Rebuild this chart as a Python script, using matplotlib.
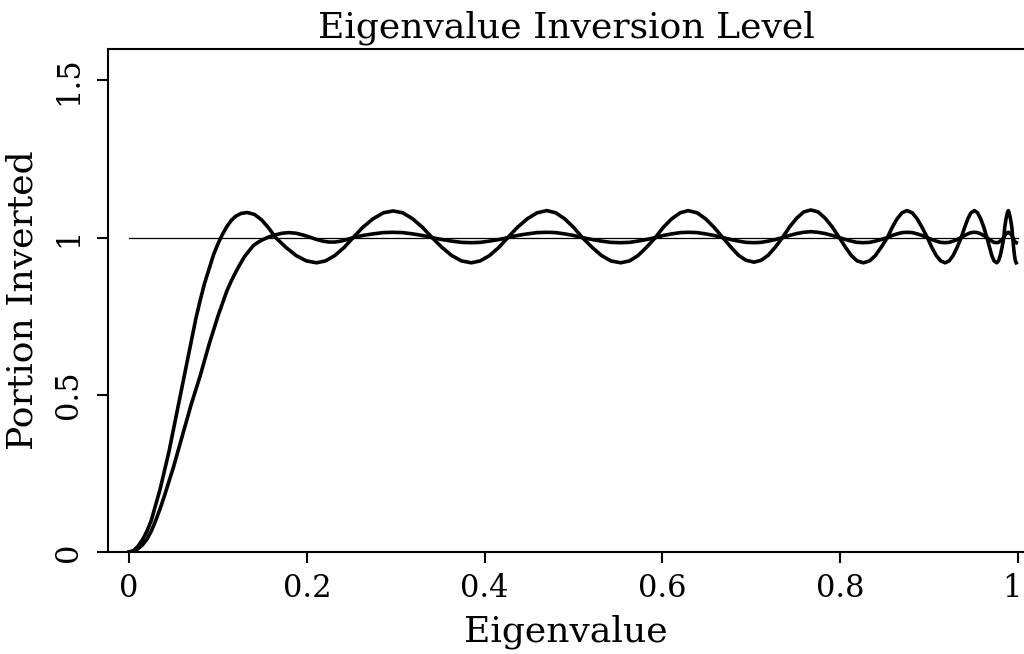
import matplotlib
matplotlib.use("Agg")
import matplotlib.pyplot as plt
import matplotlib.transforms as mtransforms

# values
# start of the curve with the large ripple (rise and first lobes)
fast_rise_x = [0.0, 0.005, 0.01, 0.015, 0.02, 0.025, 0.03, 0.035, 0.04, 0.045, 0.05,
               0.055, 0.06, 0.065, 0.07, 0.075, 0.08, 0.085, 0.09, 0.095, 0.10,
               0.105, 0.11, 0.115, 0.12, 0.126, 0.133, 0.141, 0.149, 0.157, 0.165,
               0.1765, 0.188, 0.1995, 0.211, 0.221, 0.2315, 0.242]
fast_rise_y = [0.0, 0.004, 0.018, 0.038, 0.065, 0.10, 0.15, 0.20, 0.26, 0.32, 0.39,
               0.46, 0.53, 0.60, 0.67, 0.74, 0.80, 0.855, 0.90, 0.945, 0.98,
               1.01, 1.035, 1.055, 1.068, 1.077, 1.08, 1.074, 1.057, 1.031, 1.0,
               0.969, 0.943, 0.926, 0.92, 0.926, 0.943, 0.969]

# start of the curve with the small ripple
slow_rise_x = [0.0, 0.005, 0.01, 0.015, 0.02, 0.025, 0.03, 0.035, 0.04, 0.045, 0.05,
               0.055, 0.06, 0.065, 0.07, 0.075, 0.08, 0.085, 0.09, 0.095, 0.10,
               0.105, 0.11, 0.115, 0.12, 0.125, 0.13, 0.135, 0.14, 0.145, 0.15,
               0.158, 0.165, 0.172, 0.18, 0.188, 0.195, 0.203, 0.21, 0.218, 0.225,
               0.232, 0.24, 0.246]
slow_rise_y = [0.0, 0.003, 0.01, 0.022, 0.04, 0.066, 0.10, 0.138, 0.18, 0.225, 0.27,
               0.32, 0.37, 0.42, 0.47, 0.515, 0.56, 0.61, 0.66, 0.705, 0.75,
               0.79, 0.83, 0.862, 0.89, 0.916, 0.94, 0.958, 0.975, 0.985, 0.993,
               1.003, 1.009, 1.014, 1.016, 1.014, 1.009, 1.002, 0.995, 0.989, 0.986,
               0.986, 0.99, 0.995]

# ripple part, both curves share the same eigenvalues
ripple_x = [0.252, 0.263, 0.2745, 0.286, 0.297, 0.308, 0.319, 0.330, 0.341,
            0.352, 0.363, 0.374, 0.385, 0.395, 0.4055, 0.416, 0.426,
            0.437, 0.448, 0.459, 0.470, 0.480, 0.490, 0.500, 0.510,
            0.521, 0.5315, 0.542, 0.553, 0.563, 0.5725, 0.582, 0.592,
            0.601, 0.6105, 0.620, 0.629, 0.639, 0.6485, 0.658, 0.668,
            0.677, 0.6855, 0.694, 0.703, 0.711, 0.719, 0.727, 0.735,
            0.743, 0.751, 0.759, 0.767, 0.775, 0.783, 0.791, 0.799,
            0.806, 0.8125, 0.819, 0.826, 0.833, 0.8395, 0.846, 0.853,
            0.8585, 0.864, 0.8695, 0.875, 0.881, 0.8865, 0.892, 0.898,
            0.903, 0.908, 0.913, 0.918, 0.9225, 0.927, 0.9315, 0.936,
            0.940, 0.9435, 0.947, 0.951, 0.9545, 0.958, 0.9615, 0.965,
            0.968, 0.9705, 0.973, 0.976, 0.978, 0.980, 0.982, 0.984,
            0.985, 0.9865, 0.988, 0.989, 0.990, 0.9915, 0.993, 0.994,
            0.995, 0.996, 0.997, 0.998]
fast_ripple_y = [1.0, 1.033, 1.060, 1.079, 1.085, 1.079, 1.060, 1.033, 1.0,
                 0.969, 0.943, 0.926, 0.92, 0.926, 0.943, 0.969, 1.0,
                 1.033, 1.060, 1.079, 1.086, 1.079, 1.060, 1.033, 1.0,
                 0.969, 0.943, 0.926, 0.92, 0.926, 0.943, 0.969, 1.0,
                 1.033, 1.060, 1.079, 1.086, 1.079, 1.060, 1.033, 1.0,
                 0.970, 0.944, 0.928, 0.922, 0.928, 0.944, 0.970, 1.0,
                 1.034, 1.062, 1.082, 1.088, 1.082, 1.062, 1.034, 1.0,
                 0.969, 0.943, 0.926, 0.92, 0.926, 0.943, 0.969, 1.0,
                 1.033, 1.060, 1.079, 1.086, 1.079, 1.060, 1.033, 1.0,
                 0.969, 0.943, 0.926, 0.92, 0.926, 0.943, 0.969, 1.0,
                 1.033, 1.060, 1.079, 1.086, 1.079, 1.060, 1.033, 1.0,
                 0.969, 0.943, 0.926, 0.92, 0.926, 0.943, 0.969, 1.0,
                 1.033, 1.060, 1.079, 1.086, 1.079, 1.060, 1.033, 1.0,
                 0.969, 0.943, 0.926, 0.92]
slow_ripple_y = [1.0, 1.007, 1.012, 1.016, 1.017, 1.016, 1.012, 1.007, 1.0,
                 0.994, 0.989, 0.985, 0.984, 0.985, 0.989, 0.994, 1.0,
                 1.007, 1.012, 1.016, 1.017, 1.016, 1.012, 1.007, 1.0,
                 0.994, 0.989, 0.985, 0.984, 0.985, 0.989, 0.994, 1.0,
                 1.007, 1.012, 1.016, 1.017, 1.016, 1.012, 1.007, 1.0,
                 0.994, 0.989, 0.985, 0.984, 0.985, 0.989, 0.994, 1.0,
                 1.007, 1.013, 1.017, 1.019, 1.017, 1.013, 1.007, 1.0,
                 0.994, 0.989, 0.985, 0.984, 0.985, 0.989, 0.994, 1.0,
                 1.007, 1.012, 1.016, 1.017, 1.016, 1.012, 1.007, 1.0,
                 0.994, 0.989, 0.985, 0.984, 0.985, 0.989, 0.994, 1.0,
                 1.007, 1.012, 1.016, 1.017, 1.016, 1.012, 1.007, 1.0,
                 0.994, 0.989, 0.985, 0.984, 0.985, 0.989, 0.994, 1.0,
                 1.007, 1.012, 1.016, 1.017, 1.016, 1.012, 1.007, 1.0,
                 0.994, 0.989, 0.985, 0.984]

x_ticks = [0, 0.2, 0.4, 0.6, 0.8, 1.0]
x_tick_labels = ["0", "0.2", "0.4", "0.6", "0.8", "1"]
y_ticks = [0, 0.5, 1.0, 1.5]
y_tick_labels = ["0", "0.5", "1", "1.5"]
ref_level = 1.0

plt.rcParams["font.family"] = ["DejaVu Serif"]

fast_x = fast_rise_x + ripple_x
fast_y = fast_rise_y + fast_ripple_y
slow_x = slow_rise_x + ripple_x
slow_y = slow_rise_y + slow_ripple_y

fig = plt.figure(figsize=(10.24, 6.54), dpi=100)
ax = fig.add_axes([0.1055, 0.156, 0.8945, 0.769])

ax.plot([0.0, 1.0], [ref_level, ref_level], color="black", lw=0.9)
ax.plot(fast_x, fast_y, color="black", lw=2.6, solid_joinstyle="round")
ax.plot(slow_x, slow_y, color="black", lw=2.6, solid_joinstyle="round")

ax.set_xlim(-0.0236, 1.0067)
ax.set_ylim(0, 1.6)

ax.set_xticks(x_ticks)
ax.set_xticklabels(x_tick_labels)
ax.set_yticks(y_ticks)
ax.set_yticklabels(y_tick_labels, rotation=90, va="center")

ax.tick_params(axis="x", direction="out", length=8, width=1.5, labelsize=22, pad=7)
ax.tick_params(axis="y", direction="out", length=8, width=1.5, labelsize=22, pad=9)

# the last x label sits on the right edge, nudge it in a little
last_lbl = ax.get_xticklabels()[-1]
last_lbl.set_transform(last_lbl.get_transform()
                       + mtransforms.ScaledTranslation(-4 / 72, 0, fig.dpi_scale_trans))

for side in ["left", "bottom", "top"]:
    ax.spines[side].set_linewidth(1.5)
ax.spines["right"].set_visible(False)

ax.set_title("Eigenvalue Inversion Level", fontsize=26, pad=8)
ax.set_xlabel("Eigenvalue", fontsize=26, labelpad=8)
ax.set_ylabel("Portion Inverted", fontsize=26, labelpad=10)

plt.savefig("out.png", dpi=100)
